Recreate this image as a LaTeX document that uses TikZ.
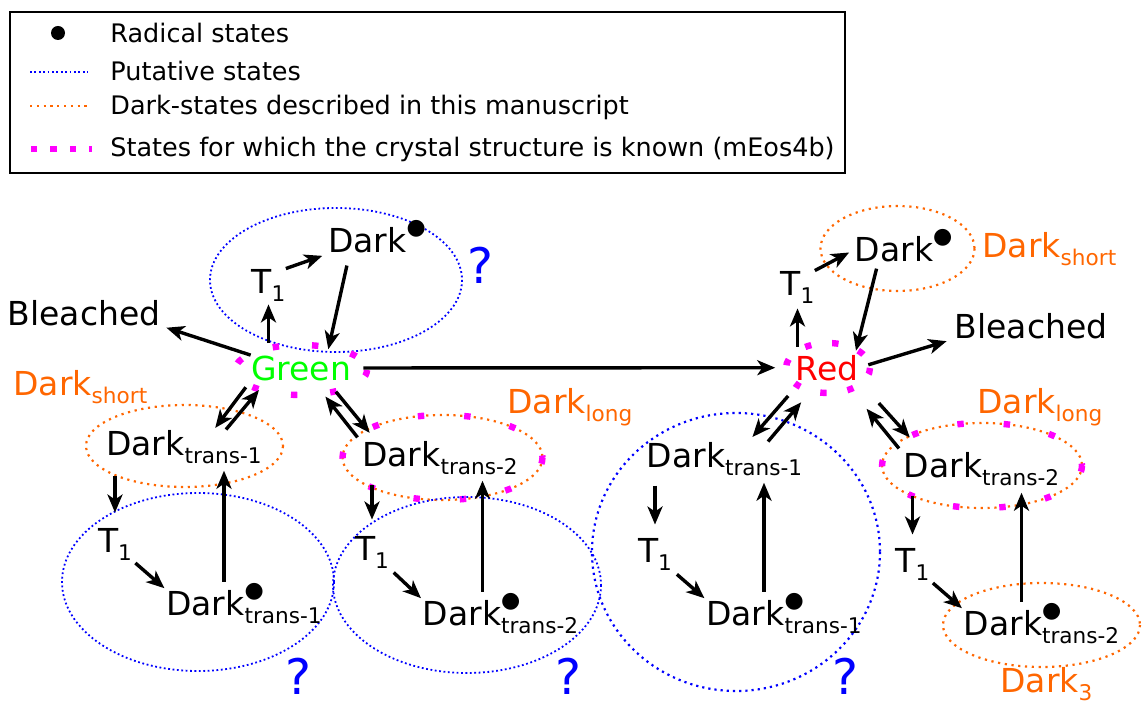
\documentclass[tikz,border=0pt]{standalone}
\usepackage{fontspec}
\setmainfont{DejaVu Sans}
\usetikzlibrary{arrows.meta}
\definecolor{dkorange}{RGB}{255,102,0}
\definecolor{magen}{RGB}{255,0,255}
\newcommand\sub[1]{\raisebox{-4pt}{\fontsize{10.8}{12}\selectfont #1}}
\newcommand\rad{\rlap{\smash{\raisebox{9pt}{\fontsize{11}{12}\selectfont ●}}}}

\begin{document}
\begin{tikzpicture}[x=0.5pt,y=-0.5pt,
    st/.style={inner sep=0pt, anchor=base, font=\fontsize{16.5}{20}\selectfont},
    lbl/.style={st, anchor=base west, text=dkorange},
    qm/.style={inner sep=0pt, text=blue, font=\fontsize{24.5}{28}\selectfont},
    leg/.style={inner sep=0pt, anchor=base west, font=\fontsize{12.75}{15}\selectfont},
    dot/.style={circle, fill=black, inner sep=0pt, minimum size=7pt},
    arr/.style={-{Stealth[length=9pt,width=7.5pt,inset=2.5pt]}, line width=1.7pt},
    putative/.style={draw=blue, line width=0.9pt, dash pattern=on 0.9pt off 1.3pt},
    described/.style={draw=dkorange, line width=1.1pt, dash pattern=on 1.1pt off 2.3pt},
    known/.style={draw=magen, line width=3.2pt, dash pattern=on 3.2pt off #1},
    known/.default=20pt,
]
\useasboundingbox (0,0) rectangle (1143,705);

% legend
\draw[line width=1pt] (10,12) rectangle (845,173);
\node[dot] (lgdot) at (58,33) {};
\draw[putative] (30,72) -- (88,72);
\draw[described] (30,106) -- (88,106);
\draw[known=6.5pt] (31,149) -- (92,149);
\node[leg] (lgrad) at (110,43) {Radical states};
\node[leg] (lgput) at (110,81) {Putative states};
\node[leg] (lgdes) at (110,115) {Dark-states described in this manuscript};
\node[leg] (lgknw) at (110,157) {States for which the crystal structure is known (mEos4b)};

% groups of states
\draw[putative] (336,280) ellipse [x radius=126, y radius=72];
\draw[described] (184.5,446) ellipse [x radius=98.5, y radius=41];
\draw[described] (442.5,457.5) ellipse [x radius=100, y radius=42.5];
\draw[known] (442.5,457.5) ellipse [x radius=100, y radius=42.5];
\draw[putative] (198,582) ellipse [x radius=136, y radius=89];
\draw[putative] (467,585) ellipse [x radius=134, y radius=88];
\draw[known=16.5pt] (301,370) ellipse [x radius=66, y radius=25];
\draw[described] (897.5,248.5) ellipse [x radius=77, y radius=42.5];
\draw[known=10.5pt] (828,368) ellipse [x radius=42, y radius=25];
\draw[putative, line width=1.1pt, dash pattern=on 1.1pt off 2pt] (736,552) ellipse [x radius=144, y radius=139];
\draw[described] (982,465.5) ellipse [x radius=100, y radius=42.5];
\draw[known] (982,465.5) ellipse [x radius=100, y radius=42.5];
\draw[described] (1041.5,625) ellipse [x radius=98.5, y radius=42];

% green form
\node[st] (bl1) at (84,325) {Bleached};
\node[st] (t1a) at (268.5,293) {T\sub{1}};
\node[st] (dk1) at (367.5,253) {Dark\rad};
\node[st, text=green] (green) at (301,380) {Green};
\node[st] (dt1a) at (184,455) {Dark\sub{trans-1}};
\node[st] (t1b) at (115,552) {T\sub{1}};
\node[st] (dk1b) at (244,615) {Dark\rad\sub{trans-1}};
\node[st] (dt2a) at (440,466) {Dark\sub{trans-2}};
\node[st] (t1f) at (372,560) {T\sub{1}};
\node[st] (dk2f) at (500.5,625) {Dark\rad\sub{trans-2}};

% red form
\node[st, text=red] (red) at (827,380) {Red};
\node[st] (t1c) at (797.5,295) {T\sub{1}};
\node[st] (dk2) at (894,262) {Dark\rad};
\node[st] (bl2) at (1031,338) {Bleached};
\node[st] (dt1c) at (724.5,467) {Dark\sub{trans-1}};
\node[st] (t1d) at (655,562) {T\sub{1}};
\node[st] (dk1d) at (784,625) {Dark\rad\sub{trans-1}};
\node[st] (dt2c) at (981.5,477) {Dark\sub{trans-2}};
\node[st] (t1e) at (912.5,572) {T\sub{1}};
\node[st] (dk2e) at (1041.5,635) {Dark\rad\sub{trans-2}};

% labels
\node[lbl] (lshort) at (13,395) {Dark\sub{short}};
\node[lbl] (llong) at (507,413) {Dark\sub{long}};
\node[lbl] (rshort) at (982,257) {Dark\sub{short}};
\node[lbl] (rlong) at (977,413) {Dark\sub{long}};
\node[lbl] (dark3) at (1000,692) {Dark\sub{3}};
\node[qm] (q1) at (480,265) {?};
\node[qm] (q2) at (298,676) {?};
\node[qm] (q3) at (568,676) {?};
\node[qm] (q4) at (845,676) {?};

% transitions, green
\draw[arr, shorten >=3pt] (green.north west) -- (bl1.south east);
\draw[arr, shorten <=6pt, shorten >=1.5pt] (green.north -| t1a) -- (t1a.south);
\draw[arr, shorten >=3pt] (t1a.north east) -- (dk1.south west);
\draw[arr, shorten <=6pt, shorten >=3pt] ([xshift=-9pt]dk1.south) -- ([xshift=13pt]green.north);
\draw[arr, shorten <=6pt, shorten >=10pt] (green.east) -- (red.west);
\draw[arr, shorten <=4pt, shorten >=1pt] (green.south west) -- ([xshift=15pt]dt1a.north);
\draw[arr, shorten >=6pt] ([xshift=21pt]dt1a.north) -- ([xshift=8pt]green.south west);
\draw[arr, shorten <=7pt, shorten >=5pt] ([xshift=13pt]green.south) -- ([xshift=-32pt]dt2a.north);
\draw[arr, shorten <=2pt, shorten >=10pt] ([xshift=-40pt]dt2a.north) -- ([xshift=6pt]green.south);
\draw[arr, shorten <=6pt, shorten >=7.5pt] (dt1a.south -| t1b) -- (t1b.north);
\draw[arr, shorten <=2pt, shorten >=1pt] (t1b.south east) -- (dk1b.north west);
\draw[arr, shorten <=4pt, shorten >=3.5pt] ([xshift=-10pt]dk1b.north) -- ([xshift=-10pt]dk1b.north |- dt1a.south);
\draw[arr, shorten <=5pt, shorten >=8pt] (dt2a.south -| t1f) -- (t1f.north);
\draw[arr, shorten <=3pt, shorten >=1pt] (t1f.south east) -- (dk2f.north west);
\draw[arr, shorten <=4pt, shorten >=3pt] ([xshift=-9pt]dk2f.north) -- ([xshift=-9pt]dk2f.north |- dt2a.south);

% transitions, red
\draw[arr, shorten <=4pt, shorten >=2.5pt] (red.north -| t1c) -- (t1c.south);
\draw[arr, shorten >=3pt] (t1c.north east) -- (dk2.west);
\draw[arr, shorten <=3pt, shorten >=2pt] ([xshift=-8pt]dk2.south) -- ([xshift=14pt]red.north);
\draw[arr, shorten <=5pt, shorten >=4pt] (red.east) -- (bl2.south west);
\draw[arr, shorten <=10pt, shorten >=3pt] ([xshift=3pt]red.south west) -- ([xshift=12pt]dt1c.north);
\draw[arr, shorten >=14pt] ([xshift=21.75pt]dt1c.north) -- ([xshift=12pt]red.south west);
\draw[arr, shorten <=15pt, shorten >=9.5pt] (red.south east) -- ([xshift=-29.5pt]dt2c.north);
\draw[arr, shorten <=2pt, shorten >=18pt] ([xshift=-40pt]dt2c.north) -- ([xshift=-7.5pt]red.south east);
\draw[arr, shorten <=5pt, shorten >=6.5pt] (dt1c.south -| t1d) -- (t1d.north);
\draw[arr, shorten <=3pt, shorten >=1pt] (t1d.south east) -- (dk1d.north west);
\draw[arr, shorten <=4pt, shorten >=3.5pt] ([xshift=-10pt]dk1d.north) -- ([xshift=-10pt]dk1d.north |- dt1c.south);
\draw[arr, shorten <=5pt, shorten >=6.5pt] (dt2c.south -| t1e) -- (t1e.north);
\draw[arr, shorten <=2pt, shorten >=1pt] (t1e.south east) -- (dk2e.north west);
\draw[arr, shorten <=4pt, shorten >=3.5pt] ([xshift=-10pt]dk2e.north) -- ([xshift=-10pt]dk2e.north |- dt2c.south);
\end{tikzpicture}
\end{document}
